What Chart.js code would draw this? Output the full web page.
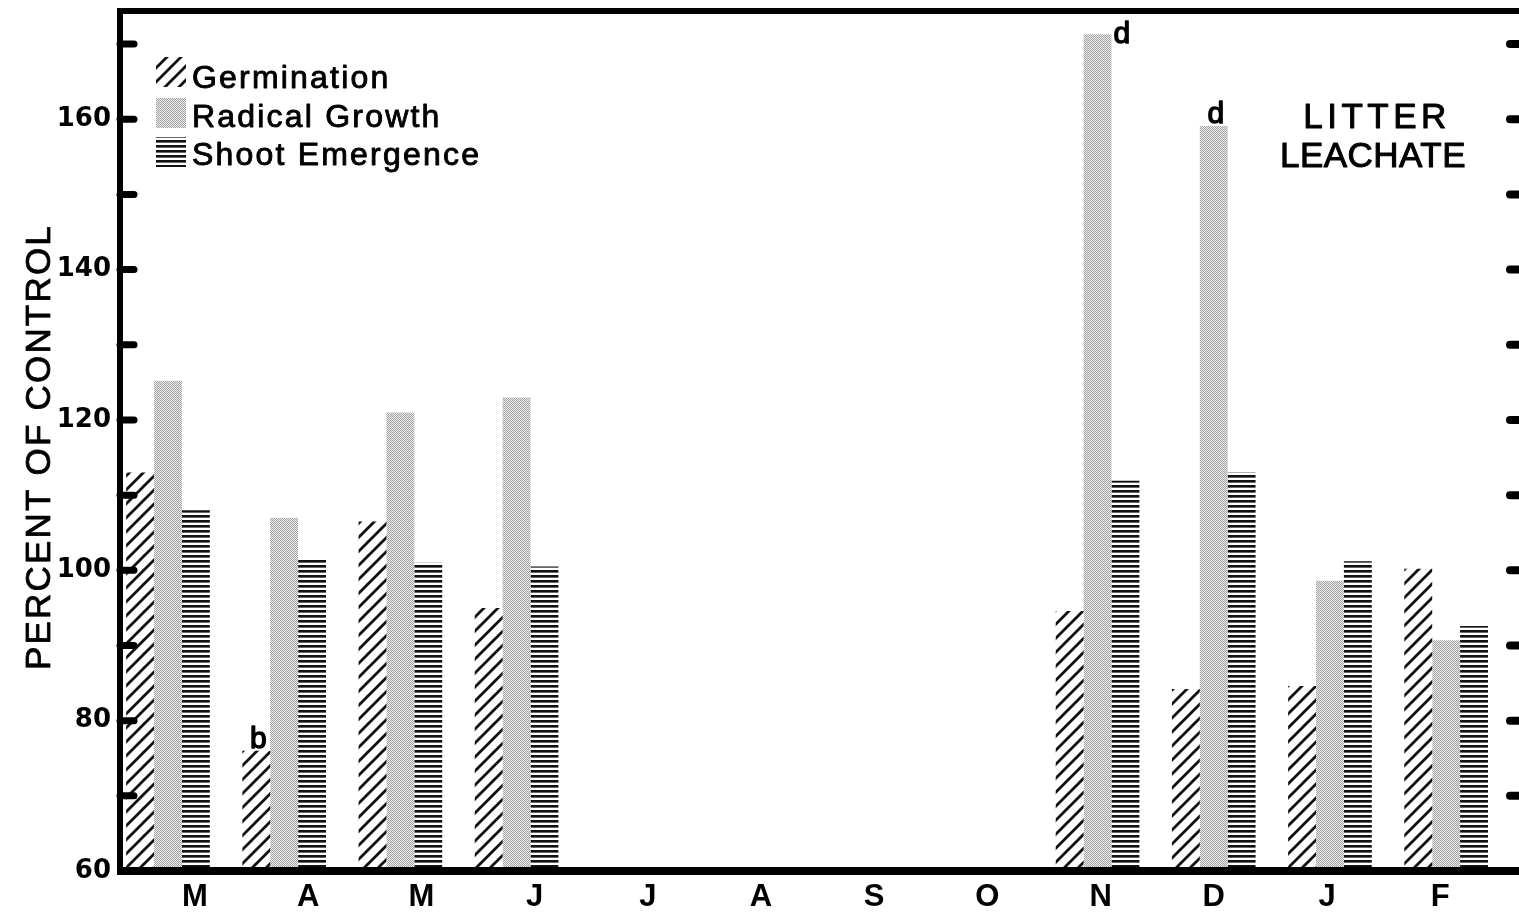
<!DOCTYPE html>
<html><head><meta charset="utf-8">
<style>html,body{margin:0;padding:0;background:#fff;}canvas{display:block;}</style>
<script src="https://cdn.jsdelivr.net/npm/chart.js@4.4.1/dist/chart.umd.min.js"></script>
</head><body>
<canvas id="c" width="1519" height="914"></canvas>
<script>
// ---- data ----
const months = ['M','A','M','J','J','A','S','O','N','D','J','F'];
const germination    = [113.0, 76.0, 106.5, 95.0, null, null, null, null, 94.6, 84.2, 84.6, 100.2];
const radicalGrowth  = [125.2, 107.0, 121.0, 123.0, null, null, null, null, 171.3, 159.1, 98.6, 90.7];
const shootEmergence = [108.0, 101.5, 101.0, 100.5, null, null, null, null, 111.9, 113.0, 101.2, 92.6];
const seriesNames = ['Germination', 'Radical Growth', 'Shoot Emergence'];
const yTickLabels = [60, 80, 100, 120, 140, 160];
const yMinorTicks = [70, 80, 90, 100, 110, 120, 130, 140, 150, 160, 170];
const significance = [
  {series: 0, month: 1, text: 'b', place: 'top'},
  {series: 1, month: 8, text: 'd', place: 'right'},
  {series: 1, month: 9, text: 'd', place: 'top'}
];
const panelLabel = ['LITTER', 'LEACHATE'];
const yTitle = 'PERCENT OF CONTROL';

// ---- patterns ----
function makePattern(w, h, draw) {
  const c = document.createElement('canvas'); c.width = w; c.height = h;
  const g = c.getContext('2d'); draw(g, w, h);
  return document.getElementById('c').getContext('2d').createPattern(c, 'repeat');
}
const hatch = makePattern(14, 14, (g, s) => {
  g.fillStyle = '#fff'; g.fillRect(0, 0, s, s);
  g.strokeStyle = '#111'; g.lineWidth = 2.8;
  g.beginPath();
  g.moveTo(-2, s + 2); g.lineTo(s + 2, -2);
  g.moveTo(-2, 2); g.lineTo(2, -2);
  g.moveTo(s - 2, s + 2); g.lineTo(s + 2, s - 2);
  g.stroke();
});
const stipple = makePattern(2, 2, (g) => {
  g.fillStyle = '#ececec'; g.fillRect(0, 0, 2, 2);
  g.fillStyle = '#a2a2a2'; g.fillRect(0, 0, 1, 1); g.fillRect(1, 1, 1, 1);
});
const hlines = makePattern(5, 5, (g) => {
  g.fillStyle = '#fff'; g.fillRect(0, 0, 5, 5);
  g.fillStyle = '#111'; g.fillRect(0, 0, 5, 2);
  g.fillStyle = '#666'; g.fillRect(0, 2, 5, 1);
});
const patterns = [hatch, stipple, hlines];

const toXY = arr => arr.map((v, i) => ({x: i, y: v}));

// ---- plugins ----
const FONT = "'Liberation Sans', Arial, Helvetica, sans-serif";
function heavyText(ctx, t, x, y, w) {
  ctx.fillText(t, x, y);
  ctx.lineWidth = w; ctx.strokeStyle = '#000'; ctx.lineJoin = 'round';
  ctx.strokeText(t, x, y);
}
const framePlugin = {
  id: 'frame',
  afterDatasetsDraw(chart) {
    const {ctx, chartArea: ca, scales: {y}} = chart;
    ctx.save();
    ctx.strokeStyle = '#000'; ctx.lineCap = 'butt';
    ctx.lineWidth = 6;
    ctx.beginPath(); ctx.moveTo(ca.left, ca.top - 3); ctx.lineTo(ca.left, ca.bottom + 4); ctx.stroke();
    ctx.beginPath(); ctx.moveTo(ca.left - 3, ca.top); ctx.lineTo(ca.right, ca.top); ctx.stroke();
    ctx.lineWidth = 8;
    ctx.beginPath(); ctx.moveTo(ca.left - 3, ca.bottom); ctx.lineTo(ca.right, ca.bottom); ctx.stroke();
    ctx.lineCap = 'round';
    yMinorTicks.forEach(v => {
      const py = y.getPixelForValue(v);
      ctx.lineWidth = 7;
      ctx.beginPath(); ctx.moveTo(ca.left, py); ctx.lineTo(ca.left + 14, py); ctx.stroke();
      ctx.lineWidth = 8;
      ctx.beginPath(); ctx.moveTo(ca.right - 9, py); ctx.lineTo(ca.right + 4, py); ctx.stroke();
    });
    ctx.restore();
  }
};
const textPlugin = {
  id: 'texts',
  afterDraw(chart) {
    const {ctx, chartArea: ca} = chart;
    ctx.save();
    ctx.fillStyle = '#000';
    // legend
    const rows = [{sy: 57, by: 88}, {sy: 98, by: 127}, {sy: 137, by: 165}];
    ctx.font = '32px ' + FONT;
    ctx.letterSpacing = '2.2px';
    ctx.textAlign = 'left'; ctx.textBaseline = 'alphabetic';
    seriesNames.forEach((n, i) => {
      ctx.fillStyle = patterns[i];
      ctx.fillRect(ca.left + 36, rows[i].sy, 30, 30);
      ctx.fillStyle = '#000';
      heavyText(ctx, n, ca.left + 72, rows[i].by, 0.9);
    });
    // panel label
    ctx.font = '35px ' + FONT;
    ctx.textAlign = 'center';
    ctx.letterSpacing = '4.5px';
    heavyText(ctx, panelLabel[0], 1377, 128, 1);
    ctx.letterSpacing = '0.5px';
    heavyText(ctx, panelLabel[1], 1373, 167, 1);
    // y title
    ctx.save();
    ctx.translate(40, (ca.top + ca.bottom) / 2 + 6);
    ctx.rotate(-Math.PI / 2);
    ctx.font = '35px ' + FONT;
    ctx.letterSpacing = '2.2px';
    ctx.textAlign = 'center'; ctx.textBaseline = 'middle';
    heavyText(ctx, yTitle, 0, 0, 0.8);
    ctx.restore();
    // significance letters
    ctx.font = '30px ' + FONT;
    ctx.letterSpacing = '0px';
    significance.forEach(a => {
      const el = chart.getDatasetMeta(a.series).data[a.month];
      if (!el) return;
      if (a.place === 'top') {
        ctx.textAlign = 'center';
        heavyText(ctx, a.text, el.x + 2, el.y - 3, 1.4);
      } else {
        ctx.textAlign = 'left';
        heavyText(ctx, a.text, el.x + el.width / 2 + 2, el.y + 9, 1.4);
      }
    });
    ctx.restore();
  }
};

new Chart(document.getElementById('c'), {
  type: 'bar',
  data: {
    datasets: [
      {label: seriesNames[0], data: toXY(germination), backgroundColor: hatch, borderWidth: 0, xAxisID: 'x', yAxisID: 'y'},
      {label: seriesNames[1], data: toXY(radicalGrowth), backgroundColor: stipple, borderWidth: 0, xAxisID: 'x', yAxisID: 'y'},
      {label: seriesNames[2], data: toXY(shootEmergence), backgroundColor: hlines, borderWidth: 0, xAxisID: 'x', yAxisID: 'y'}
    ]
  },
  options: {
    responsive: false, animation: false, devicePixelRatio: 1,
    layout: {padding: {top: 11, right: 0, bottom: 0, left: 0}},
    plugins: {legend: {display: false}, tooltip: {enabled: false}},
    datasets: {bar: {categoryPercentage: 0.72, barPercentage: 1}},
    scales: {
      x: {type: 'linear', display: false, offset: false, min: -0.413, max: 11.627},
      x2: {
        type: 'linear', position: 'bottom', offset: false, min: -0.6625, max: 11.696,
        grid: {display: false, drawTicks: false}, border: {display: false},
        afterBuildTicks: s => { s.ticks = months.map((m, i) => ({value: i})); },
        ticks: {autoSkip: false, maxRotation: 0, padding: 8, color: '#000',
          font: {family: FONT, weight: 'bold', size: 31},
          callback: v => months[v]},
        afterFit: s => { s.height = 43; s.paddingLeft = 0; s.paddingRight = 0; }
      },
      y: {
        type: 'linear', position: 'left', min: 60, max: 174.4,
        grid: {display: false, drawTicks: false}, border: {display: false},
        afterBuildTicks: s => { s.ticks = yTickLabels.map(v => ({value: v})); },
        ticks: {autoSkip: false, padding: 9, color: '#000',
          font: {family: "'DejaVu Sans', sans-serif", weight: 'bold', size: 26},
          callback: v => String(v)},
        afterFit: s => { s.width = 120; s.paddingTop = 0; s.paddingBottom = 0; }
      }
    }
  },
  plugins: [framePlugin, textPlugin]
});
</script>
</body></html>
